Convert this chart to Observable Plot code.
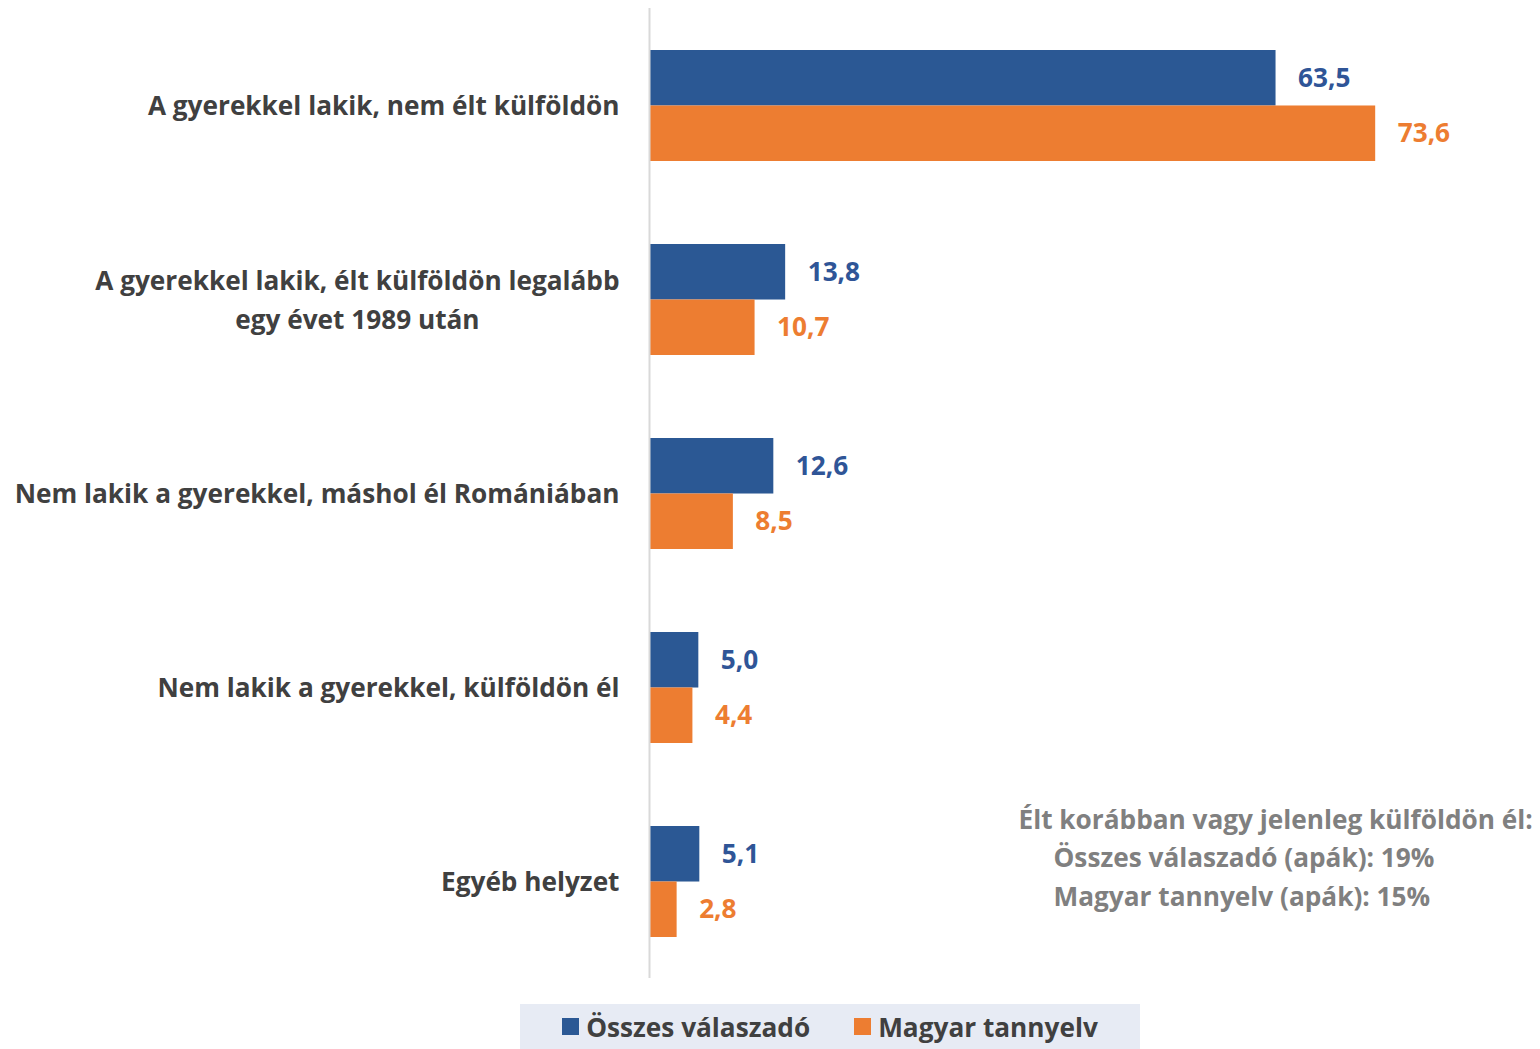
<!DOCTYPE html>
<html>
<head>
<meta charset="utf-8">
<script src="https://cdn.jsdelivr.net/npm/d3@7"></script>
<script src="https://cdn.jsdelivr.net/npm/@observablehq/plot@0.6"></script>
<style>
  html, body { margin: 0; padding: 0; background: #fff; }
  #chart { position: relative; width: 1540px; }
  #legend {
    margin-left: 520px; margin-top: 9px; width: 620px; height: 45px;
    background: #E7EBF4; display: flex; align-items: center; justify-content: center;
    color: #404040;
  }
  #legend .item { display: flex; align-items: center; margin: 0 22px; }
  #legend .sw { width: 17px; height: 17px; margin-right: 7px; }
</style>
</head>
<body>
<div id="chart"></div>
<div id="legend"></div>
<script>
const categories = [
  "A gyerekkel lakik, nem élt külföldön",
  "A gyerekkel lakik, élt külföldön legalább\negy évet 1989 után",
  "Nem lakik a gyerekkel, máshol él Romániában",
  "Nem lakik a gyerekkel, külföldön él",
  "Egyéb helyzet"
];
const seriesNames = ["Összes válaszadó", "Magyar tannyelv"];
const osszesValues = [63.5, 13.8, 12.6, 5.0, 5.1];
const magyarValues = [73.6, 10.7, 8.5, 4.4, 2.8];
const annotationLines = [
  "Élt korábban vagy jelenleg külföldön él:",
  "Összes válaszadó (apák): 19%",
  "Magyar tannyelv (apák): 15%"
];

const BLUE = "#2B5894";
const BLUE_TXT = "#2F5597";
const ORANGE = "#ED7D31";
const FONT = "'Open Sans', sans-serif";
const WEIGHT = 700;

const ctx = document.createElement("canvas").getContext("2d");
ctx.font = `${WEIGHT} 25px ${FONT}`;
// fit the font size so the widest single-line label spans like the reference (≈605px)
const FS = Math.min(28, Math.max(22, 25 * 605 / ctx.measureText(categories[2]).width));
ctx.font = `${WEIGHT} ${FS}px ${FONT}`;
const measure = s => Math.max(...s.split("\n").map(l => ctx.measureText(l).width));

const rows = categories.map((c, i) => ({category: c, osszes: osszesValues[i], magyar: magyarValues[i]}));
const fmt = v => v.toFixed(1).replace(".", ",");

const W = 1540, H = 995, mL = 649, mR = 3, mT = 8, mB = 17;
const pIn = 0.428, pOut = 0.214;
const step = (H - mT - mB) / (categories.length - pIn + 2 * pOut);
const bw = step * (1 - pIn);
const half = bw / 2;

const labelMarks = categories.map(c => Plot.text([c], {
  x: () => 0, y: d => d, text: d => d,
  textAnchor: "middle", dx: -30 - measure(c) / 2, dy: -3,
  fontSize: FS, fontWeight: WEIGHT, fill: "#404040", lineHeight: 39 / FS
}));

const annMarks = annotationLines.map((l, i) => Plot.text([l], {
  frameAnchor: "top-left", text: d => d, textAnchor: "start", lineAnchor: "middle",
  dx: (i === 0 ? 1018 : 1053) - mL, dy: 820 + i * 38.5 - mT,
  fontSize: FS, fontWeight: WEIGHT, fill: "#808080"
}));

const chart = Plot.plot({
  width: W, height: H,
  marginLeft: mL, marginRight: mR, marginTop: mT, marginBottom: mB,
  style: {fontFamily: FONT, background: "#fff"},
  x: {domain: [0, 90], axis: null},
  y: {domain: categories, paddingInner: pIn, paddingOuter: pOut, axis: null},
  marks: [
    Plot.barX(rows, {x: "osszes", y: "category", fill: BLUE, insetBottom: half}),
    Plot.barX(rows, {x: "magyar", y: "category", fill: ORANGE, insetTop: half}),
    Plot.ruleX([0], {stroke: "#D9D9D9", strokeWidth: 2}),
    Plot.text(rows, {x: "osszes", y: "category", text: d => fmt(d.osszes), dy: -half / 2, dx: 22,
      textAnchor: "start", fontSize: FS, fontWeight: WEIGHT, fill: BLUE_TXT}),
    Plot.text(rows, {x: "magyar", y: "category", text: d => fmt(d.magyar), dy: half / 2, dx: 22,
      textAnchor: "start", fontSize: FS, fontWeight: WEIGHT, fill: ORANGE}),
    ...labelMarks,
    ...annMarks
  ]
});
document.getElementById("chart").appendChild(chart);

const legend = document.getElementById("legend");
legend.style.fontFamily = FONT;
legend.style.fontWeight = WEIGHT;
legend.style.fontSize = FS + "px";
[[seriesNames[0], BLUE], [seriesNames[1], ORANGE]].forEach(([name, col]) => {
  const it = document.createElement("div");
  it.className = "item";
  it.innerHTML = `<span class="sw" style="background:${col}"></span><span>${name}</span>`;
  legend.appendChild(it);
});
</script>
</body>
</html>
